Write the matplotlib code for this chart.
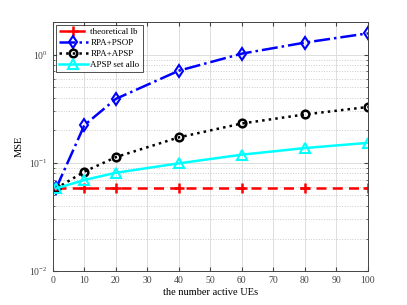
import numpy as np
import matplotlib.pyplot as plt
from matplotlib.ticker import LogLocator, NullFormatter

plt.rcParams['font.family'] = ['Liberation Serif', 'DejaVu Serif']
plt.rcParams['mathtext.fontset'] = 'stix'

# data
num_ues = [1, 10, 20, 40, 60, 80, 100]
mse_lb = [0.059, 0.059, 0.059, 0.059, 0.059, 0.059, 0.059]
mse_rpa_psop = [0.058, 0.223, 0.39, 0.71, 1.02, 1.29, 1.57]
mse_rpa_apsp = [0.058, 0.083, 0.113, 0.172, 0.231, 0.28, 0.328]
mse_apsp_set = [0.058, 0.0695, 0.081, 0.099, 0.119, 0.137, 0.153]

fig = plt.figure(figsize=(4.07, 3.05), dpi=100)
ax = fig.add_axes([0.130, 0.111, 0.774, 0.817])

ax.semilogy(num_ues, mse_lb, color='red', linestyle=(0, (4, 2.5)), linewidth=1.8,
            marker='+', markersize=7, markeredgewidth=1.8, label='theoretical lb')
ax.semilogy(num_ues, mse_rpa_psop, color='blue', linestyle='-.', linewidth=1.8,
            marker='d', markersize=6, markerfacecolor='none', markeredgewidth=1.5,
            label='RPA+PSOP')
ax.semilogy(num_ues, mse_rpa_apsp, color='black', linestyle=':', linewidth=1.8,
            marker='o', markersize=5.5, markerfacecolor='none', markeredgewidth=1.8,
            label='RPA+APSP')
ax.semilogy(num_ues, mse_apsp_set, color='cyan', linestyle='-', linewidth=1.8,
            marker='^', markersize=6.5, markerfacecolor='none', markeredgewidth=1.5,
            label='APSP set allo')

ax.set_xlim(0, 100)
ax.set_ylim(1e-2, 2)
ax.set_xticks(np.arange(0, 101, 10))
ax.yaxis.set_major_locator(LogLocator(base=10, numticks=10))
ax.yaxis.set_minor_locator(LogLocator(base=10, subs=np.arange(2, 10), numticks=20))
ax.yaxis.set_minor_formatter(NullFormatter())

ax.grid(True, which='major', color='#dddddd', linewidth=0.7)
ax.grid(True, which='minor', axis='y', color='#cccccc', linestyle=':', linewidth=0.7)
ax.set_axisbelow(True)

ax.tick_params(which='both', direction='in', top=True, right=True, labelsize=7,
               colors='#444444', length=3)
ax.tick_params(which='minor', length=1.5)
for s in ax.spines.values():
    s.set_color('#444444')
    s.set_linewidth(0.7)

ax.set_xlabel('the number active UEs', fontsize=7.5, labelpad=2)
ax.set_ylabel('MSE', fontsize=7.5, labelpad=4)

leg = ax.legend(loc='upper left', fontsize=6.5, frameon=True, fancybox=False,
                edgecolor='black', handlelength=3.2, handletextpad=0.3,
                borderpad=0.35, labelspacing=0.3, borderaxespad=0.3)
leg.get_frame().set_linewidth(0.6)

fig.savefig('out.png', dpi=100)
